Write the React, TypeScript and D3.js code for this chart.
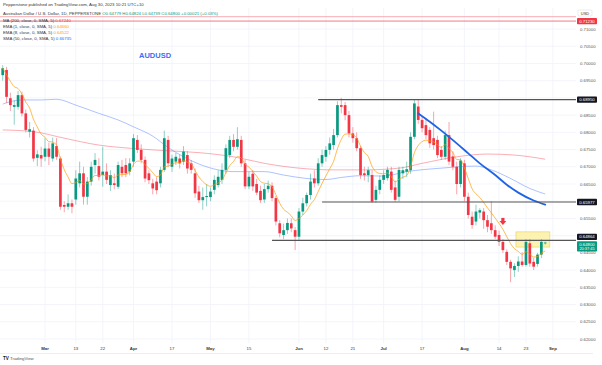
import React from 'react';
import * as d3 from 'd3';

// daily AUDUSD candles, Feb 14 -> Aug 30 2023 (weekdays only)
const firstDay = '2023-02-14';
const lastDay = '2023-08-30';

const opens = [
  0.6966, 0.6981, 0.6899, 0.6874, 0.6874, 0.6908, 0.6855, 0.6802, 0.6805, 0.6726,
  0.6734, 0.6729, 0.6753, 0.6724, 0.676, 0.6724, 0.6589, 0.6584, 0.6594, 0.6605,
  0.6652, 0.6681, 0.6613, 0.6657, 0.6705, 0.6702, 0.6676, 0.6686, 0.6647, 0.6652,
  0.6642, 0.67, 0.6705, 0.6686, 0.6715, 0.6778, 0.6749, 0.672, 0.6681, 0.6652,
  0.6657, 0.6652, 0.6691, 0.6778, 0.67, 0.6715, 0.6724, 0.6715, 0.6734, 0.671,
  0.6681, 0.6628, 0.6603, 0.6612, 0.6612, 0.6633, 0.6647, 0.6662, 0.6691, 0.6734,
  0.6778, 0.6758, 0.6778, 0.671, 0.6643, 0.668, 0.665, 0.663, 0.6605, 0.6635,
  0.6645, 0.6609, 0.6536, 0.6502, 0.6516, 0.6536, 0.6516, 0.6497, 0.657, 0.6594,
  0.6618, 0.6666, 0.6652, 0.671, 0.6729, 0.6749, 0.6763, 0.6792, 0.6879, 0.6879,
  0.685, 0.6797, 0.6783, 0.6754, 0.6681, 0.6676, 0.6676, 0.6604, 0.6633, 0.6662,
  0.6667, 0.6686, 0.664, 0.6613, 0.6681, 0.6686, 0.669, 0.6787, 0.6875, 0.6836,
  0.6821, 0.6807, 0.6783, 0.6778, 0.6749, 0.6729, 0.6792, 0.673, 0.67, 0.665,
  0.671, 0.6613, 0.6555, 0.6541, 0.6567, 0.657, 0.6545, 0.6536, 0.6516, 0.6502,
  0.6482, 0.6453, 0.6424, 0.64, 0.6412, 0.6425, 0.6415, 0.6478, 0.6424, 0.6418,
  0.6445, 0.64779,
];
const highs = [
  0.6995, 0.699, 0.6915, 0.6893, 0.692, 0.6918, 0.6866, 0.683, 0.6815, 0.6748,
  0.6758, 0.6783, 0.677, 0.6785, 0.6783, 0.673, 0.66, 0.662, 0.6605, 0.669,
  0.6715, 0.67, 0.667, 0.6715, 0.674, 0.6725, 0.6758, 0.671, 0.669, 0.668,
  0.6715, 0.672, 0.6725, 0.6725, 0.6795, 0.6792, 0.6765, 0.673, 0.669, 0.6665,
  0.667, 0.67, 0.6805, 0.679, 0.6735, 0.674, 0.6735, 0.676, 0.6745, 0.672,
  0.6695, 0.6645, 0.664, 0.665, 0.664, 0.6675, 0.669, 0.671, 0.6765, 0.679,
  0.6795, 0.6815, 0.679, 0.672, 0.6685, 0.669, 0.6665, 0.6645, 0.665, 0.666,
  0.6655, 0.6615, 0.6545, 0.6535, 0.655, 0.655, 0.6525, 0.658, 0.661, 0.6625,
  0.668, 0.669, 0.6725, 0.675, 0.676, 0.6785, 0.681, 0.689, 0.69, 0.6888,
  0.6862, 0.6815, 0.68, 0.676, 0.67, 0.67, 0.669, 0.6645, 0.6675, 0.669,
  0.67, 0.67, 0.666, 0.67, 0.67, 0.6715, 0.68, 0.6895, 0.6895, 0.6845,
  0.684, 0.6815, 0.686, 0.679, 0.676, 0.6805, 0.683, 0.6745, 0.6715, 0.6725,
  0.672, 0.6625, 0.657, 0.659, 0.658, 0.658, 0.656, 0.66, 0.653, 0.6515,
  0.649, 0.646, 0.643, 0.642, 0.644, 0.6452, 0.649, 0.649, 0.6435, 0.645,
  0.649, 0.64824,
];
const lows = [
  0.695, 0.6885, 0.6862, 0.6822, 0.6866, 0.6846, 0.68, 0.6785, 0.6715, 0.6702,
  0.67, 0.6716, 0.6705, 0.6715, 0.672, 0.6575, 0.6568, 0.6575, 0.6565, 0.659,
  0.664, 0.659, 0.659, 0.6645, 0.668, 0.666, 0.6642, 0.665, 0.663, 0.6635,
  0.6635, 0.667, 0.667, 0.6675, 0.67, 0.674, 0.671, 0.6655, 0.665, 0.662,
  0.662, 0.664, 0.6685, 0.67, 0.6685, 0.6705, 0.6695, 0.6705, 0.668, 0.668,
  0.661, 0.6595, 0.6575, 0.6585, 0.66, 0.662, 0.664, 0.665, 0.668, 0.6725,
  0.6745, 0.675, 0.67, 0.6635, 0.6635, 0.663, 0.6618, 0.6595, 0.6595, 0.6625,
  0.66, 0.653, 0.6495, 0.649, 0.6505, 0.651, 0.6458, 0.6488, 0.656, 0.6585,
  0.6605, 0.664, 0.6645, 0.67, 0.6715, 0.6735, 0.675, 0.6785, 0.6855, 0.6835,
  0.6785, 0.677, 0.6745, 0.6665, 0.666, 0.6655, 0.6595, 0.6595, 0.662, 0.665,
  0.666, 0.6625, 0.6598, 0.66, 0.6665, 0.667, 0.668, 0.678, 0.6825, 0.68,
  0.678, 0.6755, 0.675, 0.6725, 0.672, 0.672, 0.6705, 0.669, 0.662, 0.664,
  0.66, 0.655, 0.652, 0.653, 0.655, 0.652, 0.651, 0.6505, 0.649, 0.647,
  0.645, 0.6415, 0.6365, 0.638, 0.6395, 0.641, 0.641, 0.641, 0.64, 0.641,
  0.6435, 0.64739,
];
const closes = [
  0.6986, 0.6903, 0.6879, 0.6879, 0.6908, 0.6855, 0.6807, 0.6809, 0.6724, 0.6736,
  0.6724, 0.6753, 0.6729, 0.6768, 0.6729, 0.6584, 0.6584, 0.6594, 0.6584, 0.6666,
  0.6681, 0.6613, 0.6657, 0.67, 0.672, 0.6671, 0.6686, 0.6662, 0.6676, 0.6647,
  0.6705, 0.6681, 0.6681, 0.671, 0.6783, 0.6749, 0.672, 0.6666, 0.6661, 0.6637,
  0.6632, 0.6691, 0.6783, 0.671, 0.6724, 0.6729, 0.671, 0.6744, 0.6695, 0.6691,
  0.6623, 0.6603, 0.6612, 0.6615, 0.6628, 0.6662, 0.6671, 0.6691, 0.6754, 0.6778,
  0.6758, 0.678, 0.671, 0.6643, 0.6671, 0.6643, 0.6625, 0.6603, 0.6635, 0.6645,
  0.6609, 0.6541, 0.6507, 0.6516, 0.6537, 0.6521, 0.6497, 0.657, 0.6594, 0.6618,
  0.6657, 0.6652, 0.671, 0.6734, 0.6749, 0.6768, 0.6792, 0.6879, 0.6874, 0.685,
  0.6797, 0.6783, 0.6754, 0.6676, 0.6676, 0.669, 0.6599, 0.6633, 0.6662, 0.6676,
  0.6691, 0.6633, 0.6604, 0.6691, 0.669, 0.6693, 0.6787, 0.6884, 0.6836, 0.6812,
  0.6792, 0.6768, 0.6763, 0.6734, 0.6729, 0.6792, 0.6715, 0.67, 0.665, 0.6718,
  0.6613, 0.656, 0.6531, 0.657, 0.6574, 0.6545, 0.6526, 0.6516, 0.6497, 0.6482,
  0.6458, 0.6424, 0.6405, 0.6412, 0.6425, 0.6415, 0.6482, 0.6419, 0.641, 0.6445,
  0.6482, 0.648,
];

// SMA 50 (light blue)
const sma50Dates = ['2023-02-14', '2023-02-16', '2023-02-21', '2023-02-28', '2023-03-06', '2023-03-13', '2023-03-21', '2023-03-28', '2023-04-03', '2023-04-10', '2023-04-14', '2023-04-20', '2023-04-26', '2023-05-03', '2023-05-09', '2023-05-19', '2023-05-26', '2023-06-05', '2023-06-12', '2023-06-16', '2023-06-23', '2023-07-03', '2023-07-11', '2023-07-24', '2023-08-04', '2023-08-10', '2023-08-17', '2023-08-24', '2023-08-30'];
const sma50Values = [0.6882, 0.6889, 0.6894, 0.6894, 0.6896, 0.6879, 0.6855, 0.6836, 0.6816, 0.6789, 0.6756, 0.6729, 0.6708, 0.6691, 0.6686, 0.6686, 0.6676, 0.6666, 0.6663, 0.6669, 0.6674, 0.6673, 0.6686, 0.6696, 0.6702, 0.6691, 0.6666, 0.6637, 0.6621];

// MA 200 (pink)
const ma200Dates = ['2023-02-14', '2023-02-24', '2023-03-08', '2023-03-21', '2023-04-03', '2023-04-13', '2023-04-26', '2023-05-09', '2023-05-19', '2023-06-01', '2023-06-14', '2023-06-26', '2023-07-07', '2023-07-17', '2023-07-28', '2023-08-09', '2023-08-18', '2023-08-30'];
const ma200Values = [0.6807, 0.6802, 0.6783, 0.6763, 0.6753, 0.6747, 0.6741, 0.6729, 0.671, 0.6696, 0.6691, 0.6691, 0.6696, 0.671, 0.6729, 0.6737, 0.6734, 0.6722];

// thick blue curve drawn from the July high
const trendDates = ['2023-07-14', '2023-07-19', '2023-07-24', '2023-07-28', '2023-08-02', '2023-08-07', '2023-08-11', '2023-08-16', '2023-08-21', '2023-08-25', '2023-08-30'];
const trendValues = [0.6855, 0.6831, 0.6805, 0.6768, 0.6739, 0.671, 0.6676, 0.6648, 0.6625, 0.6602, 0.659];

// horizontal levels: price and the day the line starts
const levelPrices = [0.6895, 0.65977, 0.64864];
const levelStarts = ['2023-06-08', '2023-06-09', '2023-05-23'];

const tickDates = ['2023-03-01', '2023-03-13', '2023-03-22', '2023-04-03', '2023-04-17', '2023-05-01', '2023-05-15', '2023-06-01', '2023-06-12', '2023-06-21', '2023-07-03', '2023-07-17', '2023-08-01', '2023-08-14', '2023-08-23', '2023-09-01'];
const tickLabels = ['Mar', '13', '22', 'Apr', '17', 'May', '15', 'Jun', '12', '21', 'Jul', '17', 'Aug', '14', '23', 'Sep'];
const monthTicks = ['Mar', 'Apr', 'May', 'Jun', 'Jul', 'Aug', 'Sep'];

const priceTicks = d3.range(0.62, 0.7101, 0.005);

const GREEN = '#089981';
const RED = '#f23645';
const FONT = '"Liberation Sans", Arial, sans-serif';

const parse = d3.timeParse('%Y-%m-%d');
const fmt = d3.timeFormat('%Y-%m-%d');
const days = d3.timeDay
  .range(parse(firstDay)!, d3.timeDay.offset(parse(lastDay)!, 12))
  .filter((d) => d.getDay() !== 0 && d.getDay() !== 6);
const dayIndex = new Map(days.map((d, i) => [fmt(d), i]));
const idx = (s: string) => dayIndex.get(s) ?? 0;

const App: React.FC = () => {
  const plotRight = 576;
  const x = d3.scaleLinear().domain([-0.7, 149]).range([0, plotRight]);
  const y = d3.scaleLinear().domain([0.62, 0.71]).range([339, 29]);
  const p5 = d3.format('.5f');
  const bw = 2.7;

  const line = d3
    .line<[number, number]>()
    .x((d) => x(d[0]))
    .y((d) => y(d[1]))
    .curve(d3.curveMonotoneX);

  const k = 2 / 9;
  const ema8: number[] = [];
  closes.forEach((c, i) => ema8.push(i === 0 ? c : ema8[i - 1] + k * (c - ema8[i - 1])));

  const sma50 = line(sma50Dates.map((d, i) => [idx(d), sma50Values[i]]));
  const ma200 = line(ma200Dates.map((d, i) => [idx(d), ma200Values[i]]));
  const trend = line(trendDates.map((d, i) => [idx(d), trendValues[i]]));
  const emaPath = line(ema8.map((v, i) => [i, v]));

  const last = closes[closes.length - 1];
  // tick labels hidden where a price tag sits (as the platform does)
  const tagCenters = [...levelPrices.map((p) => y(p)), y(last) + 3];
  const shownTicks = priceTicks.filter((t) => tagCenters.every((c) => Math.abs(y(t) - c) > 6.5));

  const tag = (cy: number, bg: string, txt: string, key: string, fg = '#fff') => (
    <g key={key}>
      <rect x={577} y={cy - 3.2} width={20} height={6.4} rx={0.8} fill={bg} />
      <text x={587} y={cy + 1.5} fontSize={4.3} fill={fg} textAnchor="middle">{txt}</text>
    </g>
  );

  const legendRows = [
    { label: 'MA (200, close, 0, SMA, 5)', value: '0.67240', color: RED },
    { label: 'EMA (1, close, 0, SMA, 5)', value: '0.64660', color: '#ff9800' },
    { label: 'EMA (8, close, 0, SMA, 5)', value: '0.64522', color: '#ff9800' },
    { label: 'SMA (50, close, 0, SMA, 5)', value: '0.66735', color: '#2962ff' },
  ];

  return (
    <svg width={602} height={365} style={{ position: 'absolute', left: 0, top: 0, background: '#fff' }} fontFamily={FONT}>
      <rect width={602} height={365} fill="#fff" />

      {/* grid */}
      {priceTicks.map((t) => (
        <line key={'h' + t} x1={0} x2={plotRight} y1={y(t)} y2={y(t)} stroke="#f0f3fa" strokeWidth={0.8} />
      ))}
      {tickDates.map((d) => (
        <line key={'v' + d} x1={x(idx(d))} x2={x(idx(d))} y1={8} y2={343} stroke="#f0f3fa" strokeWidth={0.8} />
      ))}

      {/* top levels */}
      <line x1={0} x2={plotRight} y1={y(0.71357)} y2={y(0.71357)} stroke="#f7a1a8" strokeWidth={0.9} />
      <line x1={0} x2={plotRight} y1={y(0.7123)} y2={y(0.7123)} stroke={RED} strokeOpacity={0.75} strokeWidth={0.9} />

      {/* moving averages */}
      <path d={ma200 ?? ''} fill="none" stroke={RED} strokeOpacity={0.4} strokeWidth={1} />
      <path d={sma50 ?? ''} fill="none" stroke="#2962ff" strokeOpacity={0.38} strokeWidth={1} />

      {/* yellow zone */}
      <rect
        x={x(133.4)}
        y={y(0.6511)}
        width={x(142.2) - x(133.4)}
        height={y(0.6467) - y(0.6511)}
        fill="#fbef9a"
        fillOpacity={0.75}
        stroke="#e8d66a"
        strokeWidth={0.7}
      />

      {/* candles */}
      {closes.map((c, i) => {
        const o = opens[i];
        const col = c >= o ? GREEN : RED;
        const cx = x(i);
        const top = y(Math.max(o, c));
        const bot = y(Math.min(o, c));
        return (
          <g key={'c' + i}>
            <line x1={cx} x2={cx} y1={y(highs[i])} y2={y(lows[i])} stroke={col} strokeOpacity={0.5} strokeWidth={0.9} />
            <rect x={cx - bw / 2} y={top} width={bw} height={Math.max(0.8, bot - top)} fill={col} />
          </g>
        );
      })}

      <path d={emaPath ?? ''} fill="none" stroke="#ff9800" strokeOpacity={0.75} strokeWidth={0.9} />
      <path d={trend ?? ''} fill="none" stroke="#1e63e6" strokeWidth={1.8} strokeLinecap="round" />

      {/* horizontal levels */}
      {levelPrices.map((p, i) => (
        <line key={'l' + i} x1={x(idx(levelStarts[i]))} x2={plotRight} y1={y(p)} y2={y(p)} stroke="#555" strokeWidth={1.2} />
      ))}

      {/* down arrow marker */}
      <g transform={`translate(${x(idx('2023-08-15'))},${y(0.654)})`} fill={RED}>
        <rect x={-1.6} y={-4} width={3.2} height={3.2} />
        <path d="M-3.4,-1 L3.4,-1 L0,3.2 Z" />
      </g>

      <text x={139} y={57.7} fontSize={7.5} fontWeight="bold" fill="#3f6bf5">AUDUSD</text>

      {/* header / legend */}
      <text x={3} y={5.5} fontSize={4.3} fill="#333">Pepperstone published on TradingView.com, Aug 30, 2023 10:21 UTC+10</text>
      <text x={3} y={15} fontSize={4.3} fill="#333">
        Australian Dollar / U.S. Dollar, 1D, PEPPERSTONE{' '}
        <tspan fill={GREEN}>O0.64779 H0.64824 L0.64739 C0.64800 +0.00021 (+0.03%)</tspan>
      </text>
      {legendRows.map((r, i) => (
        <text key={r.label} x={3} y={21.5 + i * 6.1} fontSize={4.3} fill="#333">
          {r.label} <tspan fill={r.color}>{r.value}</tspan>
        </text>
      ))}

      {/* price axis */}
      {shownTicks.map((t) => (
        <text key={'pt' + t} x={580} y={y(t) + 1.5} fontSize={4.3} fill="#555">{p5(t)}</text>
      ))}
      <rect x={578} y={10} width={14} height={6} rx={1} fill="#fff" stroke="#d1d4dc" strokeWidth={0.5} />
      <text x={585} y={14.5} fontSize={4} fill="#333" textAnchor="middle">USD</text>
      {tag(y(0.7123), RED, '0.71230', 'redtag')}
      {tag(y(levelPrices[0]), '#131722', p5(levelPrices[0]), 't0')}
      {tag(y(levelPrices[1]), '#131722', p5(levelPrices[1]), 't1')}
      {tag(y(levelPrices[2]) - 3.5, '#131722', p5(levelPrices[2]), 't2')}
      <g>
        <rect x={577} y={y(last) - 1.4} width={20} height={10.4} rx={0.8} fill={GREEN} />
        <text x={587} y={y(last) + 3.1} fontSize={4.3} fill="#fff" textAnchor="middle">{p5(last)}</text>
        <text x={587} y={y(last) + 7.8} fontSize={3.9} fill="#fff" textAnchor="middle">20:37:45</text>
      </g>

      {/* time axis */}
      <line x1={0} x2={593} y1={353.5} y2={353.5} stroke="#e0e3eb" strokeWidth={0.6} />
      {tickDates.map((d, i) => (
        <text
          key={'tx' + d}
          x={x(idx(d))}
          y={349.5}
          fontSize={4.3}
          textAnchor="middle"
          fill="#333"
          fontWeight={monthTicks.includes(tickLabels[i]) ? 'bold' : 'normal'}
        >
          {tickLabels[i]}
        </text>
      ))}

      {/* logo */}
      <text x={3} y={360} fontSize={4.6} fontWeight="bold" fill="#131722">TV</text>
      <text x={10} y={360} fontSize={4.3} fill="#555">TradingView</text>
    </svg>
  );
};

export default App;
